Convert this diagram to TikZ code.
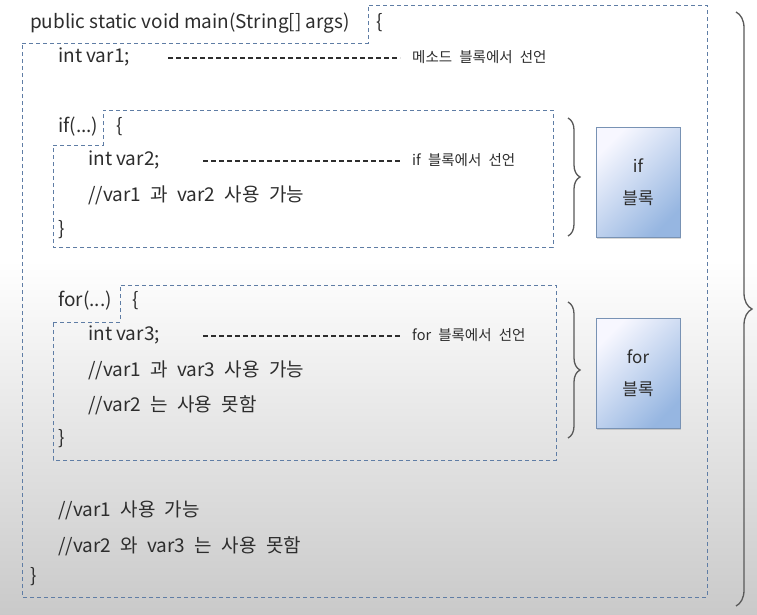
\documentclass[tikz,border=0pt]{standalone}
\usepackage{fontspec}
\setmainfont{Noto Sans CJK KR}
\newfontfamily\krwide[WordSpace=2.2]{Noto Sans CJK KR}
\usetikzlibrary{positioning,decorations.pathreplacing,shadows}
\definecolor{codegray}{RGB}{45,45,45}
\definecolor{boxline}{RGB}{95,125,165}
\definecolor{blockblue}{RGB}{150,182,225}
\tikzset{
  code/.style={anchor=west,inner sep=0pt,text=codegray,font=\fontsize{19}{22}\selectfont,text height=13pt,text depth=4pt},
  comment/.style={code,font=\krwide\fontsize{19}{22}\selectfont},
  note/.style={code,font=\krwide\fontsize{14.5}{17}\selectfont},
  scopeline/.style={draw=boxline,dash pattern=on 4pt off 3pt,line width=1pt},
  leader/.style={draw=codegray,dash pattern=on 5pt off 3pt,line width=1.1pt,shorten >=12pt},
  bracer/.style={draw=gray!70!black,line width=1.3pt,decorate,decoration={brace,amplitude=#1}},
  blockbox/.style={draw=blockblue!80!black,top color=blue!3,bottom color=blockblue,shading angle=45,minimum width=84pt,minimum height=110pt,align=center,text=codegray,font=\fontsize{17}{20}\selectfont,drop shadow={opacity=0.3,shadow xshift=1pt,shadow yshift=-2pt}},
}
\begin{document}
\begin{tikzpicture}[x=1pt,y=-1pt]
\useasboundingbox (0,0) rectangle (757,614);
\fill[white] (0,0) rectangle (757,614);
\shade[top color=white,bottom color=gray!42] (0,260) rectangle (757,614);

% scope outlines
\draw[scopeline] (22,43) -- (368,43) -- (368,5) -- (707,5) -- (707,597) -- (22,597) -- cycle;
\draw[scopeline] (53,145) -- (103,145) -- (103,110) -- (553,110) -- (553,247) -- (53,247) -- cycle;
\draw[scopeline] (53,322) -- (120,322) -- (120,285) -- (556,285) -- (556,460) -- (53,460) -- cycle;

% method block
\node[code] (mainsig) at (30,24) {public static void main(String[] args)};
\node[code] (mainopen) at (376,24) {\{};
\node[code] (var1) at (58,58) {int var1;};
\node[note] (var1note) at (412,58) {메소드 블록에서 선언};
\coordinate (var1lead) at (168,58);

% if block
\node[code] (ifhead) at (58,128) {if(...)};
\node[code] (ifopen) at (116,128) {\{};
\node[code] (var2) at (88,161) {int var2;};
\node[note] (var2note) at (412,161) {if 블록에서 선언};
\coordinate (var2lead) at (203,161);
\node[comment] (ifuse) at (88,197) {//var1 과 var2 사용 가능};
\node[code] (ifclose) at (58,231) {\}};

% for block
\node[code] (forhead) at (58,302) {for(...)};
\node[code] (foropen) at (132,302) {\{};
\node[code] (var3) at (88,336) {int var3;};
\node[note] (var3note) at (412,336) {for 블록에서 선언};
\coordinate (var3lead) at (203,336);
\node[comment] (foruse) at (88,372) {//var1 과 var3 사용 가능};
\node[comment] (fornot) at (88,407) {//var2 는 사용 못함};
\node[code] (forclose) at (58,440) {\}};

% after the blocks
\node[comment] (mainuse) at (58,512) {//var1 사용 가능};
\node[comment] (mainnot) at (58,548) {//var2 와 var3 는 사용 못함};
\node[code] (mainclose) at (30,578) {\}};

% leaders
\draw[leader] (var1lead) -- (var1note.west);
\draw[leader] (var2lead) -- (var2note.west);
\draw[leader] (var3lead) -- (var3note.west);

% block labels
\node[blockbox] (ifblock) at (638,182) {if\\[12pt]블록};
\node[blockbox] (forblock) at (638,373) {for\\[12pt]블록};

% braces
\coordinate (iftop) at (568,118);
\coordinate (ifbot) at (568,236);
\coordinate (fortop) at (568,302);
\coordinate (forbot) at (568,438);
\coordinate (maintop) at (736,12);
\coordinate (mainbot) at (736,606);
\draw[bracer=12pt] (iftop) -- (ifbot);
\draw[bracer=12pt] (fortop) -- (forbot);
\draw[bracer=16pt] (maintop) -- (mainbot);
\end{tikzpicture}
\end{document}
